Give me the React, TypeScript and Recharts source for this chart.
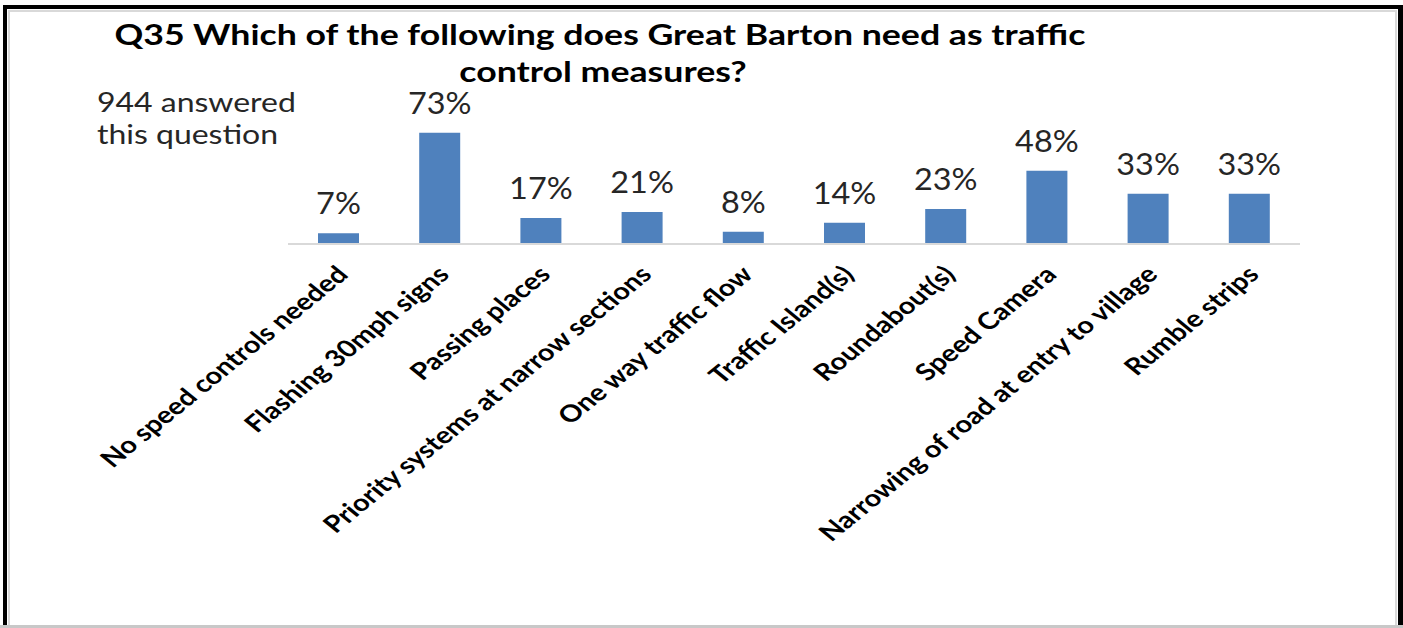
import React from "react";
import { BarChart, Bar, XAxis, YAxis, LabelList } from "recharts";

const categories = [
  "No speed controls needed",
  "Flashing 30mph signs",
  "Passing places",
  "Priority systems at narrow sections",
  "One way traffic flow",
  "Traffic Island(s)",
  "Roundabout(s)",
  "Speed Camera",
  "Narrowing of road at entry to village",
  "Rumble strips",
];
const percents = [7, 73, 17, 21, 8, 14, 23, 48, 33, 33];
const titleLines = [
  "Q35 Which of the following does Great Barton need as traffic",
  "control measures?",
];
const noteLines = ["944 answered", "this question"];

const data = categories.map((c, i) => ({ name: c, value: percents[i] }));

const FONT = "Lato, 'Open Sans', sans-serif";
const SX = 1.23;

const Tick = (props: any) => {
  const { x, y, payload } = props;
  const ax = x + 11;
  const ay = y + 24;
  return (
    <text
      x={0}
      y={0}
      transform={`translate(${ax}, ${ay}) scale(${SX}, 1) rotate(-45)`}
      textAnchor="end"
      fontFamily={FONT}
      fontWeight="bold"
      fontSize={23.5}
      fill="#000"
    >
      {payload.value}
    </text>
  );
};

const ValueLabel = (props: any) => {
  const { x, y, width, value } = props;
  const cx = x + width / 2;
  const cy = y - 19;
  return (
    <text
      x={0}
      y={0}
      transform={`translate(${cx}, ${cy}) scale(1.08, 1)`}
      textAnchor="middle"
      fontFamily={FONT}
      fontSize={30}
      fill="#262626"
    >
      {`${value}%`}
    </text>
  );
};

const Stretched = ({ x, y, anchor, size, bold, fill, children }: any) => (
  <text
    x={0}
    y={0}
    transform={`translate(${x}, ${y}) scale(${SX}, 1)`}
    textAnchor={anchor}
    fontFamily={FONT}
    fontWeight={bold ? "bold" : "normal"}
    fontSize={size}
    fill={fill}
  >
    {children}
  </text>
);

export default function App() {
  return (
    <div
      style={{
        position: "absolute",
        left: 0,
        top: 0,
        width: 1403,
        height: 628,
        background: "#fff",
        overflow: "hidden",
      }}
    >
      {/* frame */}
      <div style={{ position: "absolute", left: 3, top: 5, width: 1400, height: 4, background: "#000" }} />
      <div style={{ position: "absolute", left: 3, top: 5, width: 4, height: 623, background: "#000" }} />
      <div style={{ position: "absolute", left: 1398, top: 5, width: 5, height: 623, background: "#000" }} />
      <div style={{ position: "absolute", left: 0, top: 625, width: 1403, height: 3, background: "#c8c8c8" }} />
      <div style={{ position: "absolute", left: 8, top: 10, width: 1389, height: 2, background: "#d9d9d9" }} />
      <div style={{ position: "absolute", left: 8, top: 10, width: 2, height: 615, background: "#d9d9d9" }} />
      <div style={{ position: "absolute", left: 1395, top: 10, width: 2, height: 615, background: "#d9d9d9" }} />

      <BarChart
        width={1403}
        height={628}
        data={data}
        margin={{ top: 122, right: 103, bottom: 0, left: 288 }}
        barCategoryGap={0}
        style={{ position: "absolute", left: 0, top: 0 }}
      >
        <Stretched x={600} y={45} anchor="middle" size={29} bold fill="#000">
          {titleLines[0]}
        </Stretched>
        <Stretched x={603} y={82} anchor="middle" size={29} bold fill="#000">
          {titleLines[1]}
        </Stretched>
        <Stretched x={97} y={112} anchor="start" size={26} fill="#262626">
          {noteLines[0]}
        </Stretched>
        <Stretched x={97} y={144} anchor="start" size={26} fill="#262626">
          {noteLines[1]}
        </Stretched>
        <XAxis
          dataKey="name"
          interval={0}
          height={384}
          axisLine={{ stroke: "#d9d9d9", strokeWidth: 2 }}
          tickLine={false}
          tick={<Tick />}
        />
        <YAxis hide domain={[0, 80]} />
        <Bar dataKey="value" fill="#4f81bd" barSize={41} isAnimationActive={false}>
          <LabelList dataKey="value" content={<ValueLabel />} />
        </Bar>
      </BarChart>
    </div>
  );
}
